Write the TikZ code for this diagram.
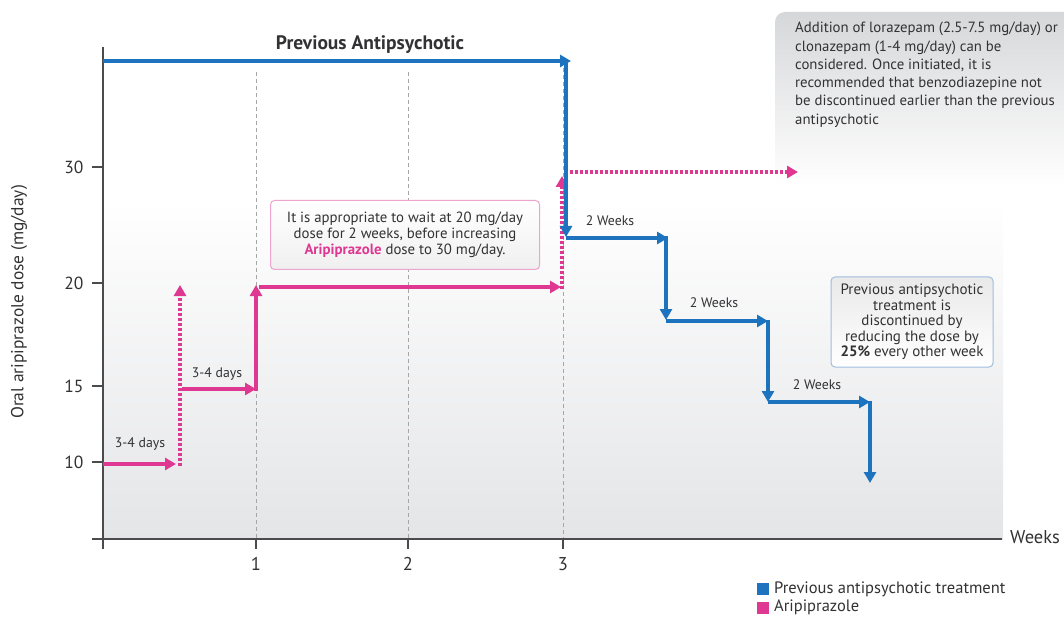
\documentclass[tikz,border=0pt]{standalone}
\usepackage{fontspec}
\setmainfont{PT Sans}
\usetikzlibrary{arrows.meta}
\definecolor{bl}{RGB}{30,115,190}
\definecolor{pk}{RGB}{222,56,146}
\definecolor{tx}{RGB}{50,50,52}
\definecolor{axc}{RGB}{75,75,77}
\definecolor{bgb}{RGB}{228,229,231}
\definecolor{grbox}{RGB}{214,215,217}
\definecolor{pkbord}{RGB}{238,165,205}
\definecolor{blbord}{RGB}{160,188,222}
\begin{document}
\begin{tikzpicture}[x=1pt,y=-1pt, text=tx,
  fs/.style={font=\fontsize{#1}{#1}\selectfont},
  bline/.style={bl, line width=3.5pt, -{Triangle[length=11pt,width=12pt]}},
  pline/.style={pk, line width=3.5pt, -{Triangle[length=11pt,width=12pt]}},
  pdot/.style={pline, dash pattern=on 3pt off 2pt},
  grid/.style={gray!70, line width=0.7pt, dash pattern=on 4pt off 3pt},
  axis/.style={axc, line width=2pt},
  tlab/.style={fs=17.5, anchor=east},
  steplab/.style={fs=13.8}]
\useasboundingbox (0,0) rectangle (1064,617);
% background
\shade[top color=white, bottom color=bgb] (103,200) rectangle (1003,539);
% gray note box
\shade[rounded corners=10pt, top color=grbox, bottom color=white] (775,12) rectangle (1090,185);
\node[anchor=north west, align=left, inner sep=0pt, font=\fontsize{14.8}{18.3}\selectfont] (note) at (795,22)
 {Addition of lorazepam (2.5-7.5 mg/day) or\\clonazepam (1-4 mg/day) can be\\considered. Once initiated, it is\\recommended that benzodiazepine not\\be discontinued earlier than the previous\\antipsychotic};
% grid lines
\coordinate (g1a) at (256,72); \coordinate (g1b) at (256,539);
\coordinate (g2a) at (408,72); \coordinate (g2b) at (408,539);
\coordinate (g3a) at (563,61); \coordinate (g3b) at (563,539);
\draw[grid] (g1a) -- (g1b);
\draw[grid] (g2a) -- (g2b);
\draw[grid] (g3a) -- (g3b);
% axes
\coordinate (ya) at (103,47); \coordinate (yb) at (103,549);
\coordinate (xa) at (92,539); \coordinate (xb) at (1002,539);
\draw[axis] (ya) -- (yb);
\draw[axis] (xa) -- (xb);
\foreach \x/\l in {256/1,408/2,563/3}{
  \coordinate (tx\l) at (\x,539); \coordinate (tb\l) at (\x,549);
  \draw[axis,line width=1.4pt] (tx\l) -- (tb\l);
  \node[fs=18.5] (xl\l) at (\x,564) {\l};
}
\foreach \y/\l in {167/30,283/20,386/15,462/10}{
  \coordinate (ty\l) at (92,\y); \coordinate (tz\l) at (103,\y);
  \draw[axis,line width=1.4pt] (ty\l) -- (tz\l);
  \node[tlab] (yl\l) at (87,\y) {\l};
}
\node[fs=17.4, rotate=90] (ylab) at (19,302) {Oral aripiprazole dose (mg/day)};
\node[fs=18.5, anchor=west, inner sep=0pt] (weeks) at (1010,537) {Weeks};
% title
\node[font=\fontsize{19.5}{19.5}\selectfont\bfseries] (title) at (370,45) {Previous Antipsychotic};
% pink box
\node[draw=pkbord, line width=1pt, rounded corners=4pt, top color=white, bottom color=gray!12,
  minimum width=269pt, minimum height=69pt, align=center, font=\fontsize{14.8}{16.2}\selectfont] (pbox) at (405,235)
 {It is appropriate to wait at 20 mg/day\\dose for 2 weeks, before increasing\\{\color{pk}\bfseries Aripiprazole} dose to 30 mg/day.};
% blue box
\node[draw=blbord, line width=1pt, rounded corners=4pt, top color=gray!17, bottom color=white,
  minimum width=162pt, minimum height=90pt, align=center, font=\fontsize{15}{15.4}\selectfont] (bbox) at (912,322)
 {Previous antipsychotic\\treatment is\\discontinued by\\reducing the dose by\\{\bfseries 25\%} every other week};
% pink path
\coordinate (p0) at (103,464); \coordinate (p1) at (176,464);
\coordinate (p2) at (180,466); \coordinate (p3) at (180,285);
\coordinate (p4) at (182,389); \coordinate (p5) at (256,389);
\coordinate (p6) at (256,391); \coordinate (p7) at (256,285);
\coordinate (p8) at (259,287); \coordinate (p9) at (561,287);
\coordinate (p10) at (562,289); \coordinate (p11) at (562,176);
\coordinate (p12) at (565,172); \coordinate (p13) at (798,172);
\draw[pline] (p0) -- (p1);
\draw[pdot] (p2) -- (p3);
\draw[pline] (p4) -- (p5);
\draw[pline] (p6) -- (p7);
\draw[pline] (p8) -- (p9);
\draw[pdot] (p10) -- (p11);
\draw[pdot] (p12) -- (p13);
% blue path
\coordinate (b0) at (103,61); \coordinate (b1) at (571,61);
\coordinate (b2) at (566,59.5); \coordinate (b3) at (566,237);
\coordinate (b4) at (566,238); \coordinate (b5) at (668,238);
\coordinate (b6) at (666,236.5); \coordinate (b7) at (666,320);
\coordinate (b8) at (666,321); \coordinate (b9) at (768,321);
\coordinate (b10) at (768,319.5); \coordinate (b11) at (768,402);
\coordinate (b12) at (768,402); \coordinate (b13) at (870,402);
\coordinate (b14) at (870,400.5); \coordinate (b15) at (870,483);
\draw[bline] (b0) -- (b1);
\draw[bline] (b2) -- (b3);
\draw[bline] (b4) -- (b5);
\draw[bline] (b6) -- (b7);
\draw[bline] (b8) -- (b9);
\draw[bline] (b10) -- (b11);
\draw[bline] (b12) -- (b13);
\draw[bline] (b14) -- (b15);
% step labels
\node[steplab] (d1) at (140,444) {3-4 days};
\node[steplab] (d2) at (217,374) {3-4 days};
\node[steplab] (w1) at (610,221) {2 Weeks};
\node[steplab] (w2) at (714,303) {2 Weeks};
\node[steplab] (w3) at (817,385) {2 Weeks};
% legend
\fill[bl] (757,583) rectangle (769,595);
\node[fs=16.5, anchor=west, inner sep=0pt] (leg1) at (774,589) {Previous antipsychotic treatment};
\fill[pk] (757,602) rectangle (769,614);
\node[fs=16.5, anchor=west, inner sep=0pt] (leg2) at (774,607) {Aripiprazole};
\end{tikzpicture}
\end{document}
